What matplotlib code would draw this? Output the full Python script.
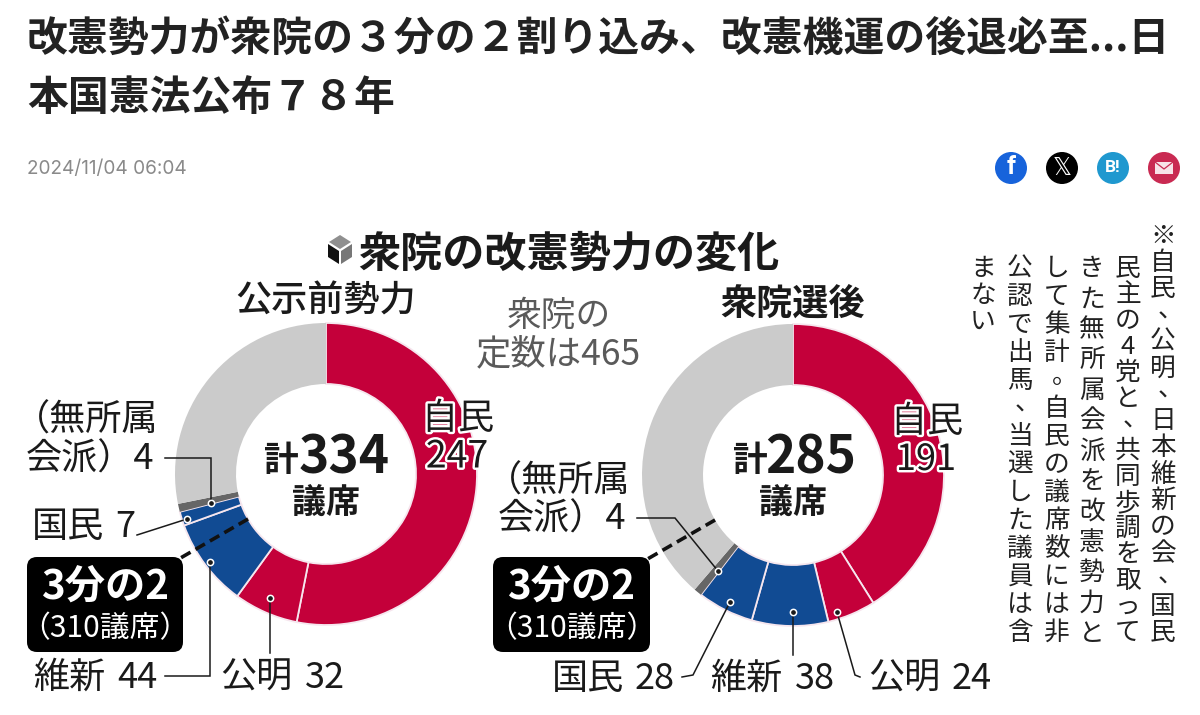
import math
import matplotlib
matplotlib.use("Agg")
import matplotlib.pyplot as plt
import matplotlib.patheffects as pe
from matplotlib.patches import FancyBboxPatch, Circle, Polygon, Rectangle

plt.rcParams['font.family'] = ['Noto Sans CJK JP', 'DejaVu Sans']

# data
total_seats = 465
two_thirds = 310
before_values = [247, 32, 44, 7, 4]
after_values = [191, 24, 38, 28, 4]
party_colors = ['#c4003a', '#c4003a', '#114b93', '#114b93', '#666666', '#cbcbcb']
headline = ['改憲勢力が衆院の３分の２割り込み、改憲機運の後退必至...日', '本国憲法公布７８年']
date_text = '2024/11/04 06:04'
chart_title = '衆院の改憲勢力の変化'
note_lines = ['※自民、公明、日本維新の会、国民', '民主の4党と、共同歩調を取って', 'きた無所属会派を改憲勢力と',
              'して集計。自民の議席数には非', '公認で出馬、当選した議員は含', 'まない']

BLACK = '#1a1a1a'

fig = plt.figure(figsize=(12, 7.15), dpi=100)
ax = fig.add_axes([0, 0, 1, 1])


def donut(values, cx, cy):
    vals = values + [total_seats - sum(values)]
    wedges, _ = ax.pie(vals, colors=party_colors, startangle=270, counterclock=True,
                       center=(cx, cy), radius=151,
                       wedgeprops=dict(width=61, edgecolor='#f6e6ee', linewidth=1.3))
    wedges[-1].set_edgecolor('none')
    wedges[-2].set_edgecolor('none')


donut(before_values, 326, 474)
donut(after_values, 793, 475)
ax.set_xlim(0, 1200)
ax.set_ylim(715, 0)
ax.set_aspect('auto')
ax.axis('off')


def txt(x, y, s, size=26, ha='center', color=BLACK, weight='normal', **kw):
    # va center sits a little high for this font
    return ax.text(x, y + 3, s, fontsize=size, ha=ha, va='center', color=color, fontweight=weight, **kw)


def seat_label(x0, x1, y, name, num):
    txt(x0, y, name, ha='left')
    txt(x1, y, num, ha='right')


def leader(xs, ys):
    ax.plot(xs, ys, color=BLACK, lw=1.1, solid_joinstyle='miter', zorder=4)
    ax.plot(xs[-1], ys[-1], 'o', ms=4.5, mfc=BLACK, mec='white', mew=1.1, zorder=5)


def dashed_two_thirds(cx, cy):
    a = math.radians(two_thirds / total_seats * 360)
    dx, dy = math.sin(a), -math.cos(a)
    ax.plot([cx + 90 * dx, cx + 168 * dx], [cy + 90 * dy, cy + 168 * dy], color='#111111',
            lw=2.6, dashes=(3, 1.6), zorder=3)


def count_box(x0, x1):
    ax.add_patch(FancyBboxPatch((x0, 557), x1 - x0, 95, boxstyle='round,pad=0,rounding_size=10',
                                fc='black', ec='none', zorder=6))
    xm = (x0 + x1) / 2
    txt(xm, 584, '3分の2', size=29, color='white', weight='bold', zorder=7)
    txt(xm, 626, '（310議席）', size=21.5, color='white', zorder=7)


# headline
txt(27, 36, headline[0], size=29.4, ha='left', weight='bold', color='#222222')
txt(27, 95, headline[1], size=29.4, ha='left', weight='bold', color='#222222')
ax.text(27, 169, date_text, fontsize=13.7, family='Inter', color='#8a8a8a', ha='left', va='center')

# share icons
icons = [(1011, '#1763db', 'f', 'white'), (1062, '#000000', '𝕏', 'white'), (1113, '#1f98cf', 'B!', 'white'),
         (1164, '#c92a52', '', 'white')]
for x, c, s, tc in icons:
    ax.add_patch(Circle((x, 168), 16, fc=c, ec='none'))
    if s == '𝕏':
        ax.text(x, 168, s, fontsize=17, color=tc, ha='center', va='center', family='DejaVu Sans')
    elif s:
        ax.text(x, 167, s, fontsize=18 if s == 'f' else 12.5, color=tc, ha='center', va='center',
                fontweight='bold', family='Roboto')
ax.add_patch(Rectangle((1155, 162), 18, 12, fc='#f7e3e8', ec='none'))
ax.plot([1155, 1164, 1173], [162, 169, 162], color='#c92a52', lw=0.9)

# chart title + cube
ax.add_patch(Polygon([(340, 235), (351, 242), (340, 249), (329, 242)], fc='#8f8f8f'))
ax.add_patch(Polygon([(328, 244), (339, 251), (339, 264), (328, 257)], fc='#111111'))
ax.add_patch(Polygon([(352, 244), (341, 251), (341, 264), (352, 257)], fc='#777777'))
txt(569, 252, chart_title, size=30.3, weight='bold')
txt(326, 299, '公示前勢力', size=26, weight='medium')
txt(793, 301, '衆院選後', size=26, weight='bold')
txt(559, 313, '衆院の', size=25, color='#5a5a5a')
txt(558, 351, '定数は465', size=25.5, color='#5a5a5a')

# dashed lines go under the count boxes
dashed_two_thirds(326, 474)
dashed_two_thirds(793, 475)
count_box(27, 183)
count_box(493, 650)

# left labels
txt(158, 418, '（無所属', ha='right')
txt(154, 457, '会派）4', ha='right')
seat_label(32, 135, 524, '国民', '7')
seat_label(33, 158, 675, '維新', '44')
seat_label(220, 345, 675, '公明', '32')
leader([165, 211, 211], [458, 458, 503])
leader([137, 187], [535, 519])
leader([165, 210, 210], [676, 676, 562])
leader([270, 270], [653, 598])
outline = [pe.withStroke(linewidth=3.5, foreground='white')]
txt(458, 416, '自民', path_effects=outline, zorder=5)
txt(457, 454, '247', size=27, path_effects=outline, zorder=5)
txt(281, 457, '計', size=25, weight='bold')
txt(344, 455, '334', size=37, weight='bold')
txt(326, 500, '議席', size=24.5, weight='bold')

# right labels
txt(630, 479, '（無所属', ha='right')
txt(626, 517, '会派）4', ha='right')
seat_label(552, 675, 676, '国民', '28')
seat_label(710, 835, 676, '維新', '38')
seat_label(868, 992, 676, '公明', '24')
leader([637, 675, 718], [518, 518, 571])
leader([682, 693, 730], [677, 675, 602])
leader([793, 793], [655, 612])
leader([860, 855, 837], [677, 675, 612])
txt(927, 419, '自民', path_effects=outline, zorder=5)
txt(926, 457, '191', path_effects=outline, zorder=5)
txt(750, 457, '計', size=25, weight='bold')
txt(811, 455, '285', size=37, weight='bold')
txt(793, 500, '議席', size=24.5, weight='bold')

# vertical note, one glyph at a time
col_x = [1163, 1128, 1092, 1057, 1020, 983]
col_start = [233, 266, 266, 266, 266, 266]
col_pitch = [26.5, 26, 30.4, 28, 28, 27]
for line, x, y0, pitch in zip(note_lines, col_x, col_start, col_pitch):
    for i, ch in enumerate(line):
        dx, dy = (8, -5) if ch in '、。' else (0, 0)
        txt(x + dx, y0 + i * pitch + dy, ch, size=18.5, color='#222222')

fig.savefig('out.png', dpi=100)
